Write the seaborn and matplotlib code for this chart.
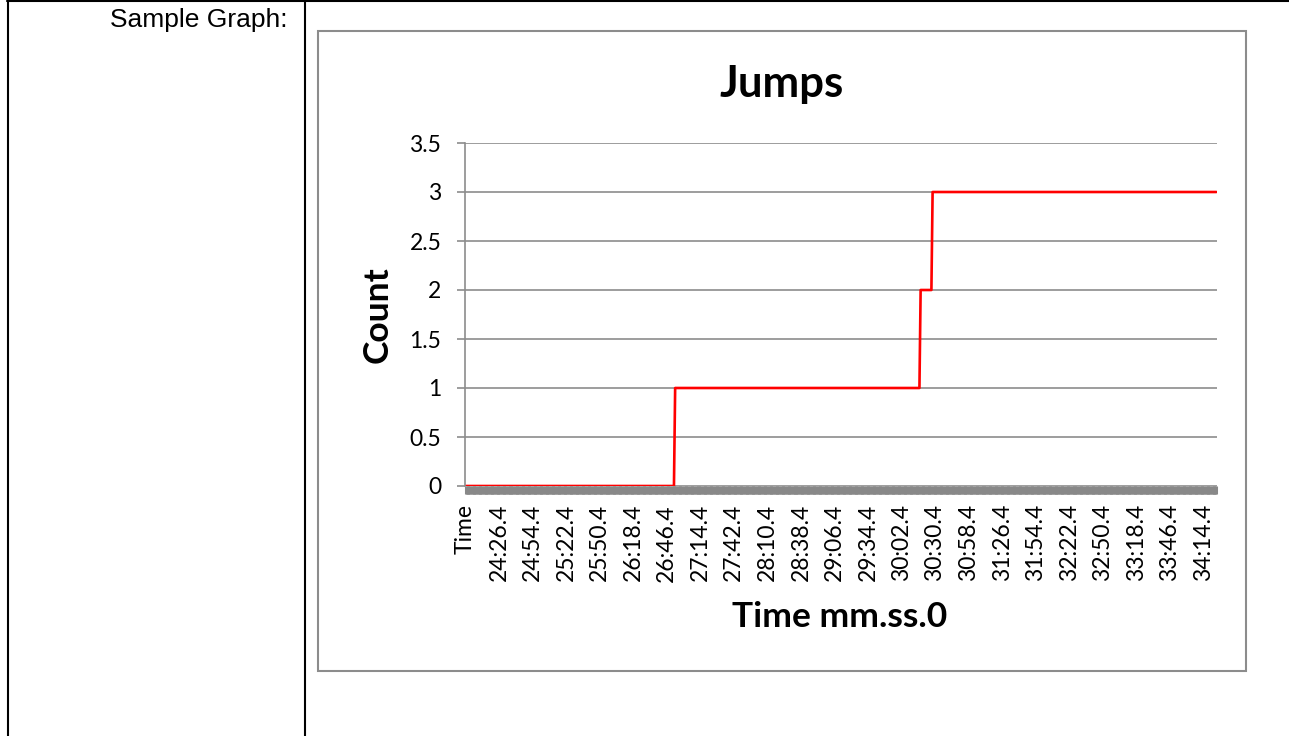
import numpy as np
import pandas as pd
import matplotlib
matplotlib.use("Agg")
import matplotlib.pyplot as plt
import seaborn as sns
from matplotlib.lines import Line2D
from matplotlib.patches import Rectangle

# ---- data -------------------------------------------------------------
# Header row "Time" followed by one reading per second
first_reading = "23:59.4"
n_readings = 627
# moments at which the jump counter increased, and the new count
jump_times = ["26:53.4", "30:18.4", "30:28.4"]
jump_counts = [1, 2, 3]

label_step = 28
tick_labels = ["Time", "24:26.4", "24:54.4", "25:22.4", "25:50.4", "26:18.4",
               "26:46.4", "27:14.4", "27:42.4", "28:10.4", "28:38.4", "29:06.4",
               "29:34.4", "30:02.4", "30:30.4", "30:58.4", "31:26.4", "31:54.4",
               "32:22.4", "32:50.4", "33:18.4", "33:46.4", "34:14.4"]

y_ticks = [0, 0.5, 1, 1.5, 2, 2.5, 3, 3.5]
y_tick_labels = ["0", "0.5", "1", "1.5", "2", "2.5", "3", "3.5"]


def to_seconds(stamp):
    m, s = stamp.split(":")
    return int(m) * 60 + float(s)


t0 = to_seconds(first_reading)
reading_secs = t0 + np.arange(n_readings)
jump_secs = np.array([to_seconds(t) for t in jump_times])
passed = np.searchsorted(jump_secs, reading_secs + 1e-6, side="right")
reading_counts = np.where(passed > 0, np.array([0] + jump_counts)[passed], 0)

df = pd.DataFrame({
    "idx": np.arange(n_readings + 1),
    "count": np.concatenate([[0], reading_counts]),
})
n_cat = len(df)

# ---- figure -----------------------------------------------------------
sns.set_style("white")
plt.rcParams["font.family"] = ["Lato", "DejaVu Sans"]
plt.rcParams["text.color"] = "black"
plt.rcParams["xtick.labelcolor"] = "black"
plt.rcParams["ytick.labelcolor"] = "black"

W, H = 1289, 736
fig = plt.figure(figsize=(W / 100, H / 100), dpi=100)


def fx(px):
    return px / W


def fy(py):
    return 1 - py / H


# table rules around the cells
for (x0, y0, x1, y1) in [(7.5, 0, 7.5, H), (305, 0, 305, H), (7, 0.8, W, 0.8)]:
    fig.add_artist(Line2D([fx(x0), fx(x1)], [fy(y0), fy(y1)],
                          transform=fig.transFigure, color="black", lw=1.5))
fig.text(fx(288), fy(27), "Sample Graph:", ha="right", va="baseline",
         fontsize=19, color="black", family=["Liberation Sans", "DejaVu Sans"])

# chart frame
fig.add_artist(Rectangle((fx(318), fy(671)), fx(1246) - fx(318), fy(31) - fy(671),
                         transform=fig.transFigure, fill=False,
                         edgecolor="#8c8c8c", lw=1.5))

ax = fig.add_axes([fx(465), fy(486), fx(1217) - fx(465), fy(143) - fy(486)])
sns.lineplot(data=df, x="idx", y="count", color="#ff0000", lw=1.9,
             estimator=None, ax=ax)

ax.set_xlim(-0.5, n_cat - 0.5)
ax.set_ylim(0, 3.5)
ax.set_yticks(y_ticks)
ax.set_yticklabels(y_tick_labels, fontsize=16.5, color="black")
ax.set_xticks(np.arange(len(tick_labels)) * label_step)
ax.set_xticklabels(tick_labels, rotation=90, fontsize=16.5, color="black")
ax.set_xticks(np.arange(n_cat), minor=True)
ax.set_xlabel("")
ax.set_ylabel("")

grid_c = "#8c8c8c"
ax.grid(axis="y", color=grid_c, lw=1.2)
ax.grid(axis="x", visible=False)
ax.set_axisbelow(True)
for side in ["top", "right", "bottom"]:
    ax.spines[side].set_visible(False)
ax.spines["left"].set_color(grid_c)
ax.spines["left"].set_linewidth(1.2)
ax.tick_params(axis="x", which="both", direction="out", length=6, width=2.2,
               color="#888888", pad=7, bottom=True)
ax.tick_params(axis="y", direction="out", length=6, width=1.2,
               color=grid_c, pad=11, left=True)

fig.text(fx(782), fy(97), "Jumps", ha="center", va="baseline",
         fontsize=31.5, fontweight="bold", color="black")
fig.text(fx(840), fy(627), "Time mm.ss.0", ha="center", va="baseline",
         fontsize=25.5, fontweight="bold", color="black")
fig.text(fx(378), fy(315), "Count", rotation=90, ha="center", va="center",
         fontsize=25.5, fontweight="bold", color="black")

fig.savefig("out.png", dpi=100)
